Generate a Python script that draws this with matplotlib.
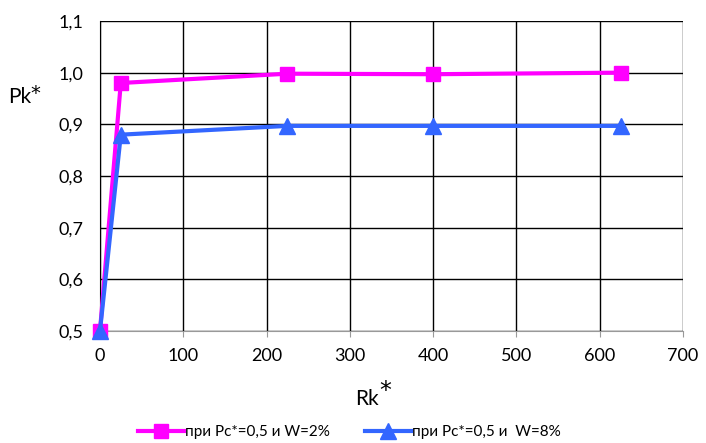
import matplotlib
matplotlib.use("Agg")
import matplotlib.pyplot as plt
from matplotlib.ticker import FuncFormatter

plt.rcParams['font.family'] = ['Lato', 'DejaVu Sans']

x_vals = [0, 25, 225, 400, 625]
series1 = [0.5, 0.98, 0.998, 0.997, 1.0]
series2 = [0.5, 0.88, 0.897, 0.897, 0.897]
label1 = "при Pc*=0,5 и W=2%"
label2 = "при Pc*=0,5 и  W=8%"
x_ticks = [0, 100, 200, 300, 400, 500, 600, 700]
y_ticks = [0.5, 0.6, 0.7, 0.8, 0.9, 1.0, 1.1]

fig = plt.figure(figsize=(7.06, 4.43), dpi=100)
ax = fig.add_axes([0.1416, 0.2528, 0.8258, 0.6998])

ax.plot(x_vals, series1, color='#FF00FF', lw=3, marker='s', ms=10, label=label1, zorder=3, clip_on=False)
ax.plot(x_vals, series2, color='#3366FF', lw=3, marker='^', ms=11, label=label2, zorder=4, clip_on=False)

ax.set_xlim(0, 700)
ax.set_ylim(0.5, 1.1)
ax.set_xticks(x_ticks)
ax.set_yticks(y_ticks)
ax.yaxis.set_major_formatter(FuncFormatter(lambda v, p: f"{v:.1f}".replace('.', ',')))
ax.grid(True, color='black', lw=1)
ax.set_axisbelow(True)
for s in ['top', 'right']:
    ax.spines[s].set_visible(False)
ax.spines['left'].set_color('black')
ax.spines['bottom'].set_color('#999999')
ax.tick_params(axis='both', length=4, labelsize=13, colors='black')
ax.tick_params(axis='x', color='#999999', pad=8)
ax.tick_params(axis='y', length=0, pad=12)

fig.text(0.012, 0.78, "Pk", fontsize=15, ha='left', va='center')
fig.text(0.043, 0.79, "*", fontsize=14, ha='left', va='center', family='DejaVu Sans')
fig.text(0.52, 0.10, "Rk", fontsize=15, ha='center', va='center')
fig.text(0.546, 0.117, "*", fontsize=17, ha='center', va='center', family='DejaVu Sans')

fig.legend(loc='center', bbox_to_anchor=(0.495, 0.025), ncol=2, frameon=False, fontsize=11,
           handlelength=3.0, columnspacing=2.3, handletextpad=0.1)

fig.savefig("out.png", dpi=100)
